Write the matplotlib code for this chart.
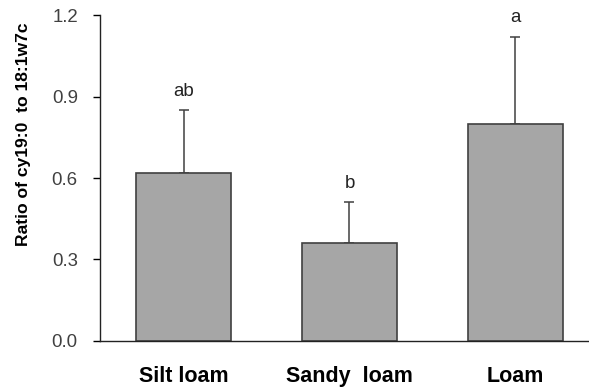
import matplotlib
matplotlib.use("Agg")
import matplotlib.pyplot as plt
import numpy as np

# soil texture classes and ratio values
soils = ["Silt loam", "Sandy  loam", "Loam"]
ratio = [0.62, 0.36, 0.80]
err_up = [0.23, 0.15, 0.32]
letters = ["ab", "b", "a"]

plt.rcParams['font.family'] = ['Liberation Sans', 'DejaVu Sans']

fig = plt.figure(figsize=(5.89, 3.87), dpi=100)
ax = fig.add_axes([0.1698, 0.1189, 0.8302, 0.8423])

x = np.arange(len(soils))
ax.bar(x, ratio, width=0.57, color="#a6a6a6", edgecolor="#404040", linewidth=1.2, zorder=2)
ax.errorbar(x, ratio, yerr=[np.zeros(len(x)), err_up], fmt="none",
            ecolor="#404040", elinewidth=1.1, capsize=3.5, capthick=1.1, zorder=1)

for xi, v, e, lab in zip(x, ratio, err_up, letters):
    ax.text(xi, v + e + 0.07, lab, ha="center", va="center", fontsize=13.4, color="#222222")

ax.set_xlim(-0.503, 2.443)
ax.set_ylim(0, 1.2)
ax.set_yticks([0.0, 0.3, 0.6, 0.9, 1.2])
ax.set_yticklabels(["0.0", "0.3", "0.6", "0.9", "1.2"])
ax.set_xticks(x)
ax.set_xticklabels(soils, fontweight="bold", fontsize=15.5)
ax.tick_params(axis="x", length=0, pad=18)
ax.tick_params(axis="y", length=5, width=1, pad=11, labelsize=13.4, labelcolor="#404040")

# y label sits higher than the axis centre in the original
fig.text(24 / 589, 1 - 134 / 387, "Ratio of cy19:0  to 18:1w7c", rotation=90,
         ha="center", va="center", fontweight="bold", fontsize=12.6)

for s in ["top", "right"]:
    ax.spines[s].set_visible(False)
for s in ["left", "bottom"]:
    ax.spines[s].set_color("#222222")
    ax.spines[s].set_linewidth(1)

fig.savefig("out.png", dpi=100)
